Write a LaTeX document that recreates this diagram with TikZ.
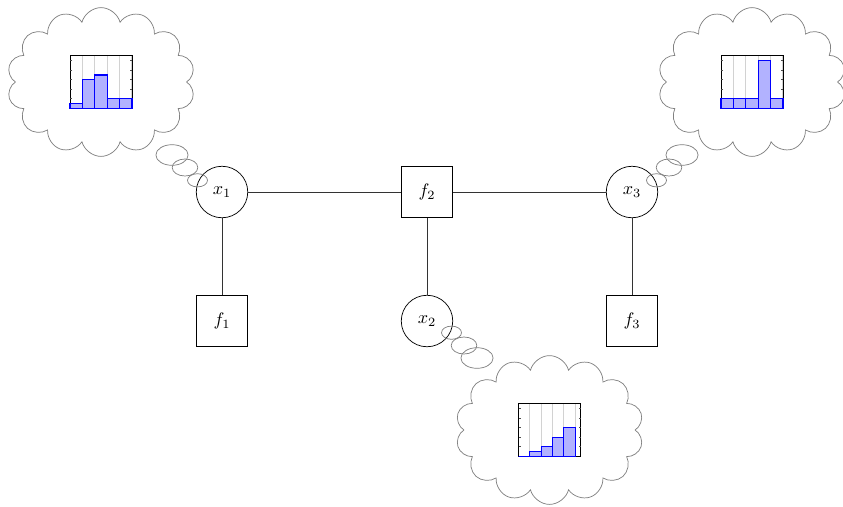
\documentclass[tikz,border=0pt]{standalone}
\usetikzlibrary{shapes.symbols}

% small histogram: #1 centre, #2 offset of first bar, #3 bar width, #4 bar heights
\newcommand\minihist[4]{%
  \begin{scope}[shift={#1}]
    \foreach \i in {1,...,5}
      \draw[histgrid] (-31+#2+\i*#3,-26.25) -- (-31+#2+\i*#3,26.25);
    \draw[histframe] (-31,-26.25) rectangle (31,26.25);
    \foreach \t in {2,4,6,8,10} {
      \draw[histtick] (-31,26.25-4.75*\t) -- ++(2,0);
      \draw[histtick] (31,26.25-4.75*\t) -- ++(-2,0);
    }
    \foreach \h [count=\i from 0] in {#4}
      \draw[histbar] (-31+#2+\i*#3,26.25) rectangle ++(#3,-4.75*\h);
  \end{scope}}

% three thought bubbles leading from node #1 in direction (#2,#3)
\newcommand\bubbles[3]{%
  \draw[bubble] ([shift={(24.5*#2,11.7*#3)}]#1.center) ellipse [x radius=10, y radius=6.6];
  \draw[bubble] ([shift={(37*#2,24.5*#3)}]#1.center) ellipse [x radius=12.8, y radius=8.5];
  \draw[bubble] ([shift={(50*#2,37*#3)}]#1.center) ellipse [x radius=16.1, y radius=10.3];}

\begin{document}
\begin{tikzpicture}[x=0.019417cm,y=-0.019417cm,
  varnode/.style={circle,draw,minimum size=1cm,inner sep=0pt},
  facnode/.style={rectangle,draw,minimum size=1cm,inner sep=0pt},
  thought/.style={cloud,draw=gray,cloud puffs=14,aspect=1.3,
    minimum width=3.65cm,minimum height=2.89cm,inner sep=0pt},
  bubble/.style={draw=gray},
  histframe/.style={draw=black,line width=0.5pt},
  histtick/.style={draw=black!70,line width=0.3pt},
  histbar/.style={draw=blue,fill=blue!30,line width=0.6pt},
  histgrid/.style={draw=gray!35,line width=0.6pt},
  link/.style={draw=black!80}
]
\useasboundingbox (0,0) rectangle (843,506);

% factor graph
\node[varnode] (x1) at (222,192) {$x_1$};
\node[facnode] (f2) at (427,192) {$f_2$};
\node[varnode] (x3) at (632,192) {$x_3$};
\node[facnode] (f1) at (222,321) {$f_1$};
\node[varnode] (x2) at (427,321) {$x_2$};
\node[facnode] (f3) at (632,321) {$f_3$};

\draw[link] (x1) -- (f2);
\draw[link] (f2) -- (x3);
\draw[link] (x1) -- (f1);
\draw[link] (f2) -- (x2);
\draw[link] (x3) -- (f3);

% belief clouds
\node[thought] (c1) at (101,82) {};
\node[thought] (c3) at (752,82) {};
\node[thought] (c2) at (549.5,430) {};

\bubbles{x1}{-1}{-1}
\bubbles{x3}{1}{-1}
\bubbles{x2}{1}{1}

\minihist{(c1.center)}{0}{12.4}{1,6,7,2,2}
\minihist{(c3.center)}{0}{12.4}{2,2,2,10,2}
\minihist{(c2.center)}{0}{11.33}{0,1,2,4,6}
\end{tikzpicture}
\end{document}
